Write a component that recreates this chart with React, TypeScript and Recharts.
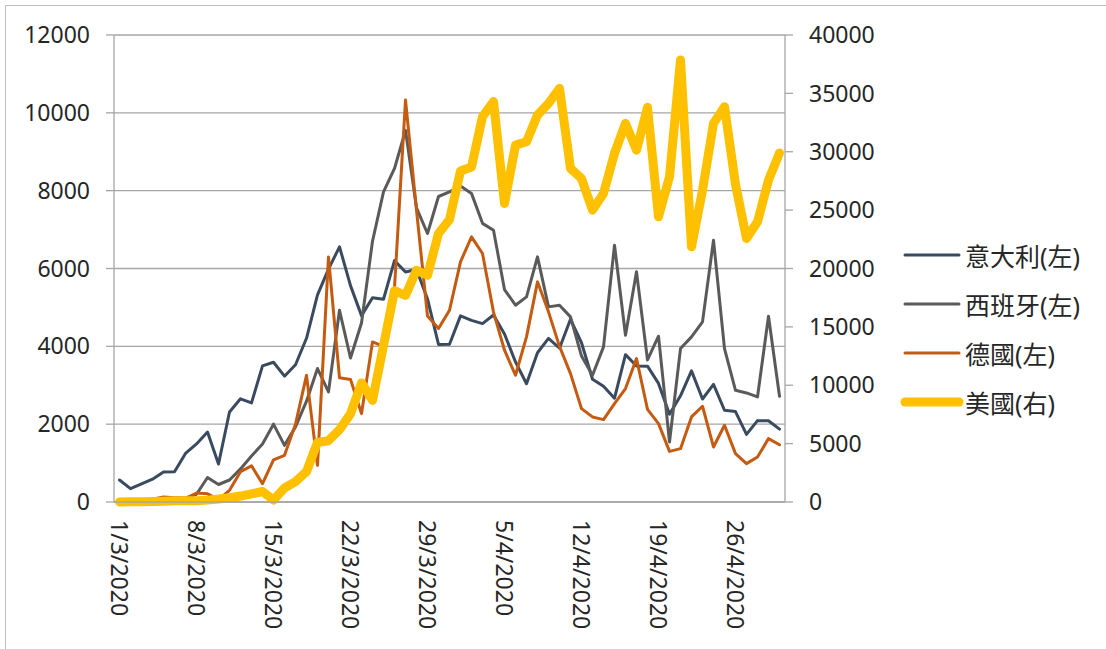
import { LineChart, Line, XAxis, YAxis, CartesianGrid, Legend } from "recharts";

// daily new cases, 1/3/2020 - 30/4/2020
const days = [
  "1/3/2020", "2/3/2020", "3/3/2020", "4/3/2020", "5/3/2020", "6/3/2020", "7/3/2020",
  "8/3/2020", "9/3/2020", "10/3/2020", "11/3/2020", "12/3/2020", "13/3/2020", "14/3/2020",
  "15/3/2020", "16/3/2020", "17/3/2020", "18/3/2020", "19/3/2020", "20/3/2020", "21/3/2020",
  "22/3/2020", "23/3/2020", "24/3/2020", "25/3/2020", "26/3/2020", "27/3/2020", "28/3/2020",
  "29/3/2020", "30/3/2020", "31/3/2020", "1/4/2020", "2/4/2020", "3/4/2020", "4/4/2020",
  "5/4/2020", "6/4/2020", "7/4/2020", "8/4/2020", "9/4/2020", "10/4/2020", "11/4/2020",
  "12/4/2020", "13/4/2020", "14/4/2020", "15/4/2020", "16/4/2020", "17/4/2020", "18/4/2020",
  "19/4/2020", "20/4/2020", "21/4/2020", "22/4/2020", "23/4/2020", "24/4/2020", "25/4/2020",
  "26/4/2020", "27/4/2020", "28/4/2020", "29/4/2020", "30/4/2020",
];

const italy = [
  566, 342, 466, 587, 769, 778, 1247, 1492, 1797, 977, 2313, 2651, 2547, 3497, 3590, 3233,
  3526, 4207, 5322, 5986, 6557, 5560, 4789, 5249, 5210, 6203, 5909, 5974, 5217, 4050, 4053,
  4782, 4668, 4585, 4805, 4316, 3599, 3039, 3836, 4204, 3951, 4694, 4092, 3153, 2972, 2667,
  3786, 3493, 3491, 3047, 2256, 2729, 3370, 2646, 3021, 2357, 2324, 1739, 2091, 2086, 1872,
];

const spain = [
  20, 35, 45, 57, 40, 100, 100, 200, 630, 450, 565, 850, 1180, 1490, 2000, 1456, 1930, 2590,
  3430, 2830, 4926, 3700, 4600, 6700, 7970, 8570, 9550, 7560, 6900, 7850, 7970, 8120, 7930,
  7160, 6985, 5460, 5057, 5271, 6300, 5014, 5057, 4757, 3750, 3257, 3986, 6600, 4286, 5914,
  3650, 4260, 1543, 3943, 4243, 4628, 6728, 3943, 2871, 2803, 2700, 4774, 2717,
];

const germany = [
  50, 30, 40, 70, 130, 110, 90, 230, 210, 60, 300, 780, 930, 471, 1080, 1200, 2000, 3255,
  942, 6297, 3190, 3150, 2271, 4114, 4000, 5500, 10330, 7500, 4780, 4457, 4928, 6171, 6814,
  6385, 4880, 3900, 3257, 4243, 5657, 4886, 4000, 3300, 2400, 2186, 2117, 2528, 2914, 3686,
  2380, 2014, 1300, 1371, 2186, 2460, 1414, 1971, 1243, 986, 1157, 1628, 1470,
];

const usa = [
  10, 20, 25, 35, 60, 100, 115, 105, 160, 250, 370, 510, 700, 900, 170, 1200, 1750, 2600,
  5100, 5250, 6200, 7550, 10200, 8700, 13400, 18100, 17700, 19850, 19420, 23000, 24200,
  28350, 28700, 33000, 34300, 25570, 30570, 30855, 33140, 34140, 35430, 28570, 27710, 25000,
  26430, 29860, 32430, 30140, 33800, 24430, 27860, 37860, 21860, 26700, 32430, 33860, 27200,
  22570, 24000, 27570, 29900,
];

const tickDays = [0, 7, 14, 21, 28, 35, 42, 49, 56];
const leftTicks = [0, 2000, 4000, 6000, 8000, 10000, 12000];
const rightTicks = [0, 5000, 10000, 15000, 20000, 25000, 30000, 35000, 40000];

const series = [
  { key: "italy", name: "意大利(左)", color: "#3a4a5f", width: 3, axis: "left" },
  { key: "spain", name: "西班牙(左)", color: "#5a5a5a", width: 3, axis: "left" },
  { key: "germany", name: "德國(左)", color: "#c55a11", width: 3, axis: "left" },
  { key: "usa", name: "美國(右)", color: "#ffc000", width: 9, axis: "right" },
];

const rows = days.map((d, i) => ({
  idx: i,
  date: d,
  italy: italy[i],
  spain: spain[i],
  germany: germany[i],
  usa: usa[i],
}));

const FONT = '"Noto Sans", "Noto Sans CJK TC", sans-serif';
const AXIS = "#a6a6a6";
const TEXT = "#262626";

function DateTick({ x, y, payload }: any) {
  const label = days[payload.value] ?? "";
  return (
    <text
      x={x}
      y={y + 8}
      transform={`rotate(90, ${x}, ${y + 8})`}
      textAnchor="start"
      dominantBaseline="central"
      fontSize={23}
      fontFamily={FONT}
      fill={TEXT}
    >
      {label}
    </text>
  );
}

function LegendBox() {
  return (
    <div style={{ fontFamily: FONT }}>
      {series.map((s) => (
        <div key={s.key} style={{ display: "flex", alignItems: "center", height: 49 }}>
          <svg width={64} height={20}>
            <line
              x1={5}
              x2={59}
              y1={10}
              y2={10}
              stroke={s.color}
              strokeWidth={s.width}
              strokeLinecap="round"
            />
          </svg>
          <span style={{ fontSize: 25, color: TEXT, marginLeft: 1, whiteSpace: "nowrap" }}>
            {s.name}
          </span>
        </div>
      ))}
    </div>
  );
}

export default function App() {
  return (
    <div
      style={{
        position: "absolute",
        left: 0,
        top: 0,
        width: 1106,
        height: 649,
        overflow: "hidden",
        background: "#fff",
      }}
    >
      <div
        style={{
          position: "absolute",
          left: 5,
          top: 5,
          width: 1200,
          height: 800,
          border: "1px solid #bfbfbf",
        }}
      />
      <div style={{ position: "absolute", left: 0, top: 0 }}>
        <LineChart
          width={1106}
          height={649}
          data={rows}
          margin={{ top: 35, right: 221, bottom: 7, left: 14 }}
        >
          <CartesianGrid
            yAxisId="left"
            horizontal
            vertical={false}
            stroke={AXIS}
            strokeWidth={1.3}
          />
          <XAxis
            xAxisId="a"
            type="number"
            dataKey="idx"
            domain={[-0.5, 60.5]}
            ticks={tickDays.map((t) => t - 0.5)}
            interval={0}
            tick={false}
            tickSize={8}
            height={10}
            axisLine={{ stroke: AXIS, strokeWidth: 1.3 }}
            tickLine={{ stroke: AXIS, strokeWidth: 1.3 }}
          />
          <XAxis
            xAxisId="b"
            type="number"
            dataKey="idx"
            domain={[-0.5, 60.5]}
            ticks={tickDays}
            interval={0}
            tick={<DateTick />}
            tickSize={0}
            tickMargin={0}
            height={130}
            axisLine={false}
            tickLine={false}
          />
          <YAxis
            yAxisId="left"
            domain={[0, 12000]}
            ticks={leftTicks}
            interval={0}
            width={100}
            tickSize={8}
            tickMargin={16}
            axisLine={{ stroke: AXIS, strokeWidth: 1.3 }}
            tickLine={{ stroke: AXIS, strokeWidth: 1.3 }}
            tick={{ fontSize: 23, fontFamily: FONT, fill: TEXT }}
          />
          <YAxis
            yAxisId="right"
            orientation="right"
            domain={[0, 40000]}
            ticks={rightTicks}
            interval={0}
            width={100}
            tickSize={8}
            tickMargin={16}
            axisLine={{ stroke: AXIS, strokeWidth: 1.3 }}
            tickLine={{ stroke: AXIS, strokeWidth: 1.3 }}
            tick={{ fontSize: 23, fontFamily: FONT, fill: TEXT }}
          />
          <Legend
            layout="vertical"
            align="center"
            verticalAlign="middle"
            content={() => <LegendBox />}
            wrapperStyle={{ left: 900, top: 230, width: 205 }}
          />
          {series.map((s) => (
            <Line
              key={s.key}
              xAxisId="a"
              yAxisId={s.axis}
              type="linear"
              dataKey={s.key}
              name={s.name}
              stroke={s.color}
              strokeWidth={s.width}
              strokeLinejoin="round"
              strokeLinecap="round"
              dot={false}
              activeDot={false}
              isAnimationActive={false}
            />
          ))}
        </LineChart>
      </div>
    </div>
  );
}
